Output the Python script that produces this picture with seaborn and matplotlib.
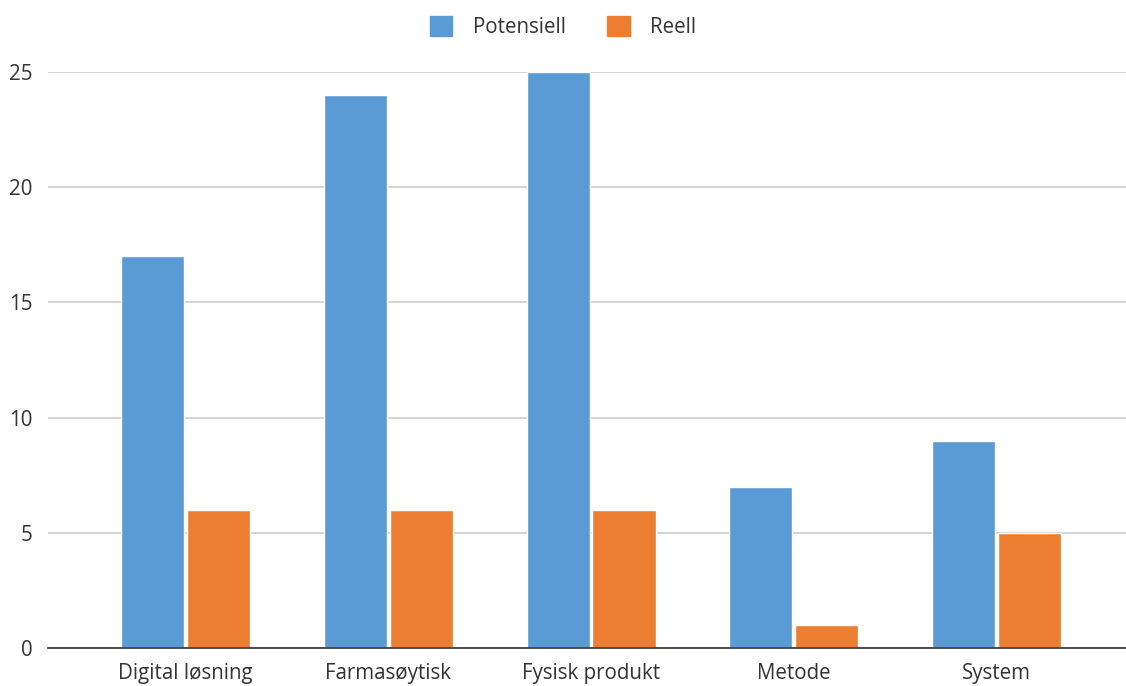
import matplotlib
matplotlib.use("Agg")
import matplotlib.pyplot as plt
import seaborn as sns
import pandas as pd
from matplotlib.patches import Patch

categories = ["Digital løsning", "Farmasøytisk", "Fysisk produkt", "Metode", "System"]
potensiell = [17, 24, 25, 7, 9]
reell = [6, 6, 6, 1, 5]
series_names = ["Potensiell", "Reell"]
colors = ["#5B9BD5", "#ED7D31"]

df = pd.DataFrame({
    "kategori": categories * 2,
    "verdi": potensiell + reell,
    "serie": [series_names[0]] * len(categories) + [series_names[1]] * len(categories),
})

sns.set_style("white")
plt.rcParams["font.family"] = ["Open Sans", "DejaVu Sans"]

fig = plt.figure(figsize=(11.26, 6.86), dpi=100)
ax = fig.add_axes([48 / 1126, 1 - 648 / 686, 1078 / 1126, (648 - 72) / 686])

sns.barplot(data=df, x="kategori", y="verdi", hue="serie", palette=colors,
            width=0.65, gap=0.04, ax=ax, legend=False, saturation=1)

ax.set_ylim(0, 25)
ax.set_yticks([0, 5, 10, 15, 20, 25])
ax.set_xlim(-0.68, 4.64)
ax.grid(axis="y", color="#D0D0D0", linewidth=1.3)
ax.set_axisbelow(True)
for s in ["top", "right", "left"]:
    ax.spines[s].set_visible(False)
ax.spines["bottom"].set_color("#404040")
ax.spines["bottom"].set_linewidth(1.3)
ax.set_xlabel("")
ax.set_ylabel("")
ax.tick_params(axis="both", length=0, labelsize=14.8, colors="#333333")
ax.tick_params(axis="x", pad=11)
ax.tick_params(axis="y", pad=11)

handles = [Patch(facecolor=c, edgecolor=c) for c in colors]
fig.legend(handles, series_names, loc="upper center", bbox_to_anchor=(0.5, 1.003),
           ncol=2, frameon=False, fontsize=14.8, handlelength=1.1, handleheight=1.1,
           columnspacing=2.0, handletextpad=1.0, labelcolor="#333333")

fig.savefig("out.png", dpi=100)
